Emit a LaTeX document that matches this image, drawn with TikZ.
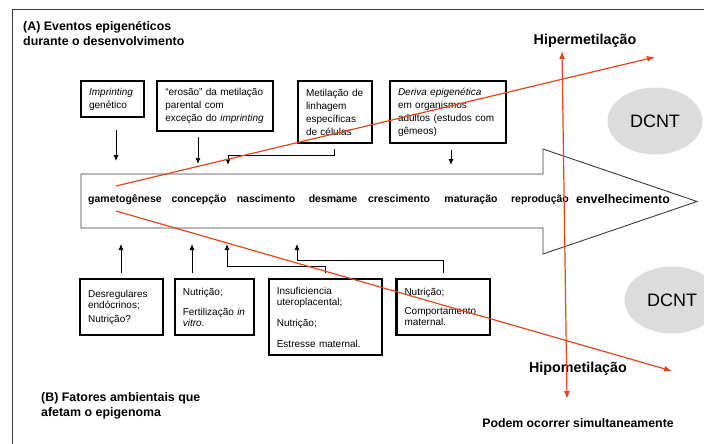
\documentclass[tikz,border=0pt]{standalone}
\usepackage{fontspec}
\setmainfont{Liberation Sans}
\usepackage{tikz}
\usetikzlibrary{arrows.meta,positioning,shapes.geometric}
\definecolor{MetRed}{HTML}{E2461B}
\definecolor{DiseaseGray}{HTML}{DCDCDC}
\definecolor{FrameGray}{HTML}{3A3A3A}
\tikzset{
  eventbox/.style={draw, line width=2.2pt, align=left, inner xsep=8pt, inner ysep=2pt,
                   font=\fontsize{10}{13}\selectfont},
  factorbox/.style={eventbox, font=\fontsize{10}{11}\selectfont},
  stage/.style={anchor=base, inner sep=0pt, font=\fontsize{10.5}{12}\selectfont\bfseries},
  heading/.style={anchor=north west, align=left, inner sep=0pt,
                  font=\fontsize{12.4}{15.5}\selectfont\bfseries},
  trendlabel/.style={anchor=base, inner sep=0pt, font=\fontsize{14.3}{16}\selectfont\bfseries},
  disease/.style={ellipse, fill=DiseaseGray, minimum width=95pt, minimum height=67pt,
                  inner sep=0pt, font=\fontsize{18}{20}\selectfont},
  lifeline/.style={draw=FrameGray, line width=0.9pt},
  framing/.style={draw=FrameGray, line width=1pt},
  flow/.style={-{Latex[length=6pt,width=5pt]}, line width=0.9pt},
  trend/.style={-{Latex[length=8pt,width=6pt]}, draw=MetRed, line width=1.2pt}
}
\begin{document}
\begin{tikzpicture}[x=1pt, y=-1pt]
  \useasboundingbox (0,0) rectangle (704,444);
  \draw[framing] (12,444) -- (12,10) -- (704,10);

  \node[heading] (title-a) at (23,21) {(A) Eventos epigenéticos\\durante o desenvolvimento};
  \node[heading] (title-b) at (41,392) {(B) Fatores ambientais que\\afetam o epigenoma};

  % eventos epigeneticos
  \node[eventbox, anchor=north west, text width=47pt, minimum height=36pt] (imprint) at (80,80)
    {\emph{Imprinting}\\genético};
  \node[eventbox, below right=0pt and 11pt of imprint.north east, text width=99.5pt, minimum height=50pt] (erosion)
    {“erosão” da metilação\\parental com\\exceção do \emph{imprinting}};
  \node[eventbox, below right=0pt and 23pt of erosion.north east, text width=57.8pt, minimum height=62pt] (lineage)
    {Metilação de\\linhagem\\específicas\\de células};
  \node[eventbox, below right=0pt and 16pt of lineage.north east, text width=100pt, minimum height=62pt] (drift)
    {\emph{Deriva epigenética}\\em organismos\\adultos (estudos com\\gêmeos)};

  % linha da vida
  \draw[lifeline] (81,174) -- (543,174) -- (543,149) -- (697,201.5) -- (543,254) -- (543,228) -- (81,228) -- cycle;
  \node[stage] (gameto) at (125,202) {gametogênese};
  \node[stage] (concep) at (199,202) {concepção};
  \node[stage] (birth) at (266,202) {nascimento};
  \node[stage] (wean) at (333,202) {desmame};
  \node[stage] (growth) at (399,202) {crescimento};
  \node[stage] (maturity) at (471,202) {maturação};
  \node[stage] (repro) at (540,202) {reprodução};
  \node[stage, font=\fontsize{12.4}{14}\selectfont\bfseries] (aging) at (623,203) {envelhecimento};

  % fatores ambientais
  \node[factorbox, anchor=north west, text width=66.5pt, minimum height=56pt] (endocrine) at (79,278)
    {Desregulares\\endócrinos;\\[3pt]Nutrição?};
  \node[factorbox, below right=0pt and 10pt of endocrine.north east, text width=62.8pt, minimum height=56pt] (nutrition)
    {Nutrição;\\[9pt]Fertilização \emph{in}\\\emph{vitro}.};
  \node[factorbox, below right=0pt and 13pt of nutrition.north east, text width=97.5pt, minimum height=76pt] (placenta)
    {Insuficiencia\\uteroplacental;\\[10pt]Nutrição;\\[10pt]Estresse maternal.};
  \node[factorbox, below right=0pt and 12pt of placenta.north east, text width=77.5pt, minimum height=56pt] (care)
    {Nutrição;\\[8pt]Comportamento\\maternal.};

  \node[disease] (dcnt-top) at (655,121) {DCNT};
  \node[disease] (dcnt-bottom) at (672,300) {DCNT};

  \node[trendlabel] (hyper) at (585,45) {Hipermetilação};
  \node[trendlabel] (hypo) at (578,372) {Hipometilação};
  \node[trendlabel, font=\fontsize{12.3}{14}\selectfont\bfseries] (simult) at (578,427) {Podem ocorrer simultaneamente};

  \coordinate (gameto-in) at (116,161);
  \coordinate (concep-in) at (198,164);
  \coordinate (birth-in) at (228,165);
  \coordinate (maturity-in) at (451,165);
  \coordinate (gameto-out) at (121,244);
  \coordinate (concep-out) at (192,244);
  \coordinate (birth-out) at (227,244);
  \coordinate (wean-out) at (297,244);

  \draw[flow, shorten <=12pt] (imprint.south -| gameto-in) -- (gameto-in);
  \draw[flow, shorten <=5pt] (erosion.south -| concep-in) -- (concep-in);
  \draw[flow] ([yshift=-5pt]lineage.south) -- ++(0,6) -| (birth-in);
  \draw[flow, shorten <=6pt] (drift.south -| maturity-in) -- (maturity-in);

  \draw[flow, shorten <=5pt] (endocrine.north -| gameto-out) -- (gameto-out);
  \draw[flow, shorten <=5pt] (nutrition.north -| concep-out) -- (concep-out);
  \draw[flow] ([yshift=5pt]placenta.north) -- ++(0,-7) -| (birth-out);
  \draw[flow] ([yshift=5pt]care.north) -- ++(0,-13) -| (wean-out);

  % metilacao
  \coordinate (hyper-start) at (116,186);
  \coordinate (hyper-end) at (655,57);
  \coordinate (hypo-start) at (116,211);
  \coordinate (hypo-end) at (672,371);
  \coordinate (both-top) at (562,51);
  \coordinate (both-bottom) at (567,399);
  \draw[trend] (hyper-start) -- (hyper-end);
  \draw[trend] (hypo-start) -- (hypo-end);
  \draw[trend, {Latex[length=8pt,width=6pt]}-{Latex[length=8pt,width=6pt]}] (both-bottom) -- (both-top);
\end{tikzpicture}
\end{document}
